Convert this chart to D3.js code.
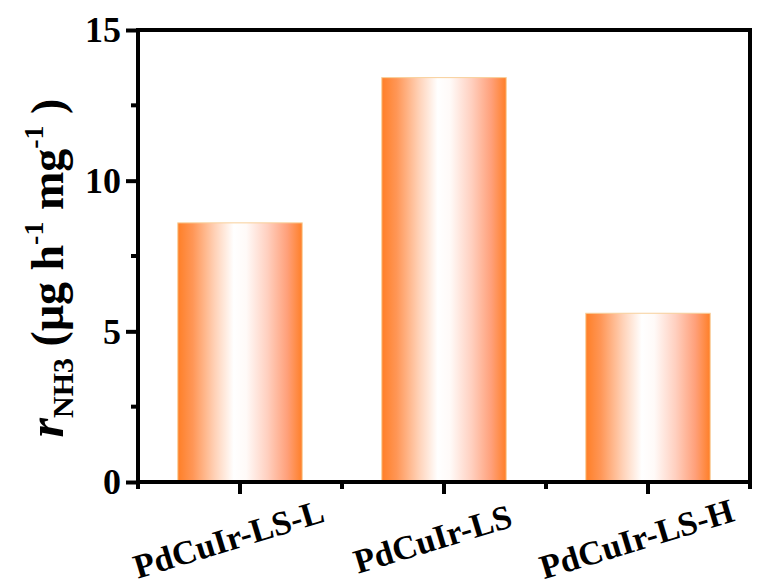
<!DOCTYPE html>
<html>
<head>
<meta charset="utf-8">
<script src="https://cdn.jsdelivr.net/npm/d3@7"></script>
<style>
  body { margin: 0; background: #fff; }
  svg text { font-family: "Liberation Serif", "Times New Roman", Times, serif !important; font-weight: bold; }
</style>
</head>
<body>
<div id="chart"></div>
<script>
const categories = ["PdCuIr-LS-L", "PdCuIr-LS", "PdCuIr-LS-H"];
const rates = [8.6, 13.42, 5.6];
const yTicks = [0, 5, 10, 15];
const yMinorTicks = [2.5, 7.5, 12.5];

const margin = {top: 30, right: 8, bottom: 104, left: 138},
    width = 758 - margin.left - margin.right,
    height = 586 - margin.top - margin.bottom;

const svg = d3.select("#chart")
    .append("svg")
    .attr("width", 758)
    .attr("height", 586);

// bar gradient
const grad = svg.append("defs").append("linearGradient")
    .attr("id", "barGrad")
    .attr("x1", "0%").attr("x2", "100%").attr("y1", "0%").attr("y2", "0%");
[[0, "#ff7f27"], [0.12, "#ff9656"], [0.3, "#ffd2b8"], [0.45, "#ffffff"], [0.55, "#fffaf8"],
 [0.72, "#ffd0c0"], [0.88, "#ffa07a"], [1, "#ff7f27"]].forEach(([o, c]) => {
    grad.append("stop").attr("offset", o).attr("stop-color", c);
});

const g = svg.append("g").attr("transform", `translate(${margin.left},${margin.top})`);

const x = d3.scaleBand().domain(categories).range([0, width]).paddingInner(0.39).paddingOuter(0.195);
const y = d3.scaleLinear().domain([0, 15]).range([height, 0]);

// bars
g.selectAll(".bar")
    .data(categories)
    .enter()
    .append("rect")
    .attr("x", d => x(d))
    .attr("y", (d, i) => y(rates[i]))
    .attr("width", x.bandwidth())
    .attr("height", (d, i) => height - y(rates[i]))
    .attr("fill", "url(#barGrad)")
    .attr("stroke", "#f8cf9a")
    .attr("stroke-width", 1);

// frame
g.append("rect")
    .attr("width", width)
    .attr("height", height)
    .attr("fill", "none")
    .attr("stroke", "#000")
    .attr("stroke-width", 4);

// y axis ticks
const yAxis = g.append("g")
    .call(d3.axisLeft(y).tickValues(yTicks).tickSize(12).tickPadding(5));
yAxis.attr("font-family", null);
yAxis.select(".domain").remove();
yAxis.selectAll(".tick line").attr("stroke-width", 4);
yAxis.selectAll(".tick text").attr("font-size", "36px").attr("fill", "#000").attr("dy", "0.33em");

g.selectAll(".yminor")
    .data(yMinorTicks)
    .enter()
    .append("line")
    .attr("x1", -7).attr("x2", 0)
    .attr("y1", d => y(d)).attr("y2", d => y(d))
    .attr("stroke", "#000").attr("stroke-width", 4);

// x axis ticks
const step = x.step();
g.selectAll(".xmajor")
    .data(categories)
    .enter()
    .append("line")
    .attr("x1", d => x(d) + x.bandwidth() / 2)
    .attr("x2", d => x(d) + x.bandwidth() / 2)
    .attr("y1", height).attr("y2", height + 12)
    .attr("stroke", "#000").attr("stroke-width", 4);

g.selectAll(".xminor")
    .data(d3.range(categories.length + 1))
    .enter()
    .append("line")
    .attr("x1", d => d * step)
    .attr("x2", d => d * step)
    .attr("y1", height).attr("y2", height + 7)
    .attr("stroke", "#000").attr("stroke-width", 4);

// x labels
g.selectAll(".xlabel")
    .data(categories)
    .enter()
    .append("text")
    .attr("transform", d => `translate(${x(d) + x.bandwidth() / 2 - 8},${height + 68}) rotate(-17)`)
    .attr("text-anchor", "middle")
    .attr("font-size", "34px")
    .text(d => d);

// y-axis label
const yl = svg.append("text")
    .attr("transform", `translate(63,${margin.top + height / 2 + 12}) rotate(-90)`)
    .attr("text-anchor", "middle")
    .attr("font-size", "46px");
yl.append("tspan").attr("font-style", "italic").attr("font-size", "50px").text("r");
yl.append("tspan").attr("font-size", "30px").attr("dy", 10).text("NH3");
yl.append("tspan").attr("dy", -10).text(" (μg h");
yl.append("tspan").attr("font-size", "28px").attr("dy", -20).text("-1");
yl.append("tspan").attr("dy", 20).text(" mg");
yl.append("tspan").attr("font-size", "28px").attr("dy", -20).text("-1");
yl.append("tspan").attr("dy", 20).text(" )");
</script>
</body>
</html>
